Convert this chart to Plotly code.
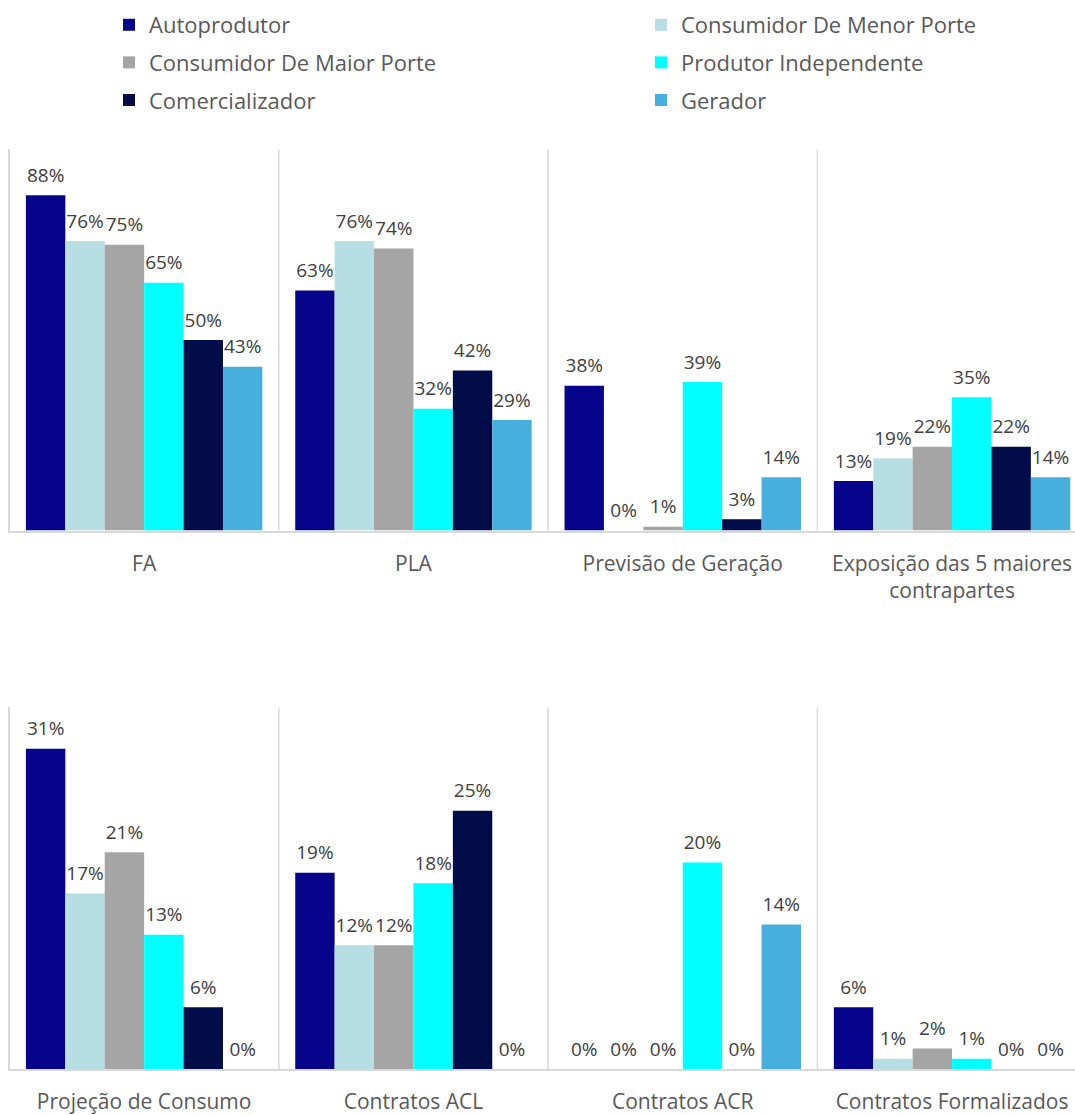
import plotly.graph_objects as go

# Categories for each panel
categories_top = ["FA", "PLA", "Previsão de Geração", "Exposição das 5 maiores<br>contrapartes"]
categories_bottom = ["Projeção de Consumo", "Contratos ACL", "Contratos ACR", "Contratos Formalizados"]

# Agent types (series) and their values in percent
series_names = [
    "Autoprodutor",
    "Consumidor De Menor Porte",
    "Consumidor De Maior Porte",
    "Produtor Independente",
    "Comercializador",
    "Gerador",
]
values_top = {
    "Autoprodutor": [88, 63, 38, 13],
    "Consumidor De Menor Porte": [76, 76, 0, 19],
    "Consumidor De Maior Porte": [75, 74, 1, 22],
    "Produtor Independente": [65, 32, 39, 35],
    "Comercializador": [50, 42, 3, 22],
    "Gerador": [43, 29, 14, 14],
}
values_bottom = {
    "Autoprodutor": [31, 19, 0, 6],
    "Consumidor De Menor Porte": [17, 12, 0, 1],
    "Consumidor De Maior Porte": [21, 12, 0, 2],
    "Produtor Independente": [13, 18, 20, 1],
    "Comercializador": [6, 25, 0, 0],
    "Gerador": [0, 0, 14, 0],
}

colors = {
    "Autoprodutor": "#07048c",
    "Consumidor De Menor Porte": "#b7dee2",
    "Consumidor De Maior Porte": "#a5a5a5",
    "Produtor Independente": "#00ffff",
    "Comercializador": "#020c48",
    "Gerador": "#47afdd",
}
# Legend laid out in two columns
legend_columns = {
    "Autoprodutor": "legend",
    "Consumidor De Maior Porte": "legend",
    "Comercializador": "legend",
    "Consumidor De Menor Porte": "legend2",
    "Produtor Independente": "legend2",
    "Gerador": "legend2",
}

W, H = 1075, 1115
FONT = "Open Sans"
AXIS_GRAY = "#d9d9d9"
TEXT_GRAY = "#595959"
LABEL_GRAY = "#404040"

# Label text: value line plus a tiny spacer line to lift the label off the bar
label_tpl = ("<span style='font-size:19px'>%{y}%</span>"
             "<br><span style='font-size:1px'>\u00a0</span>")

fig = go.Figure()
for name in series_names:
    for panel, (cats, vals, xa, ya) in enumerate([
        (categories_top, values_top, "x", "y"),
        (categories_bottom, values_bottom, "x2", "y2"),
    ]):
        fig.add_trace(go.Bar(
            name=name,
            x=cats,
            y=vals[name],
            xaxis=xa,
            yaxis=ya,
            marker=dict(color=colors[name], line=dict(width=0)),
            texttemplate=label_tpl,
            textposition="outside",
            textfont=dict(family=FONT, size=8, color=LABEL_GRAY),
            constraintext="none",
            cliponaxis=False,
            legendgroup=name,
            legend=legend_columns[name],
            showlegend=(panel == 0),
            hovertemplate=name + "<br>%{x}: %{y}%<extra></extra>",
        ))

# Plot-area geometry in pixels
left_px = 9.5
group_px = 269.3
x_hi = -0.5 + (W - left_px) / group_px
top_y0, top_y1 = 150, 532.5
bot_y0, bot_y1 = 710, 1073

def xaxis_cfg(cats):
    return dict(
        domain=[left_px / W, 1],
        type="category",
        categoryorder="array",
        categoryarray=cats,
        range=[-0.5, x_hi],
        showline=True,
        linecolor=AXIS_GRAY,
        linewidth=1.5,
        showgrid=False,
        zeroline=False,
        ticks="",
        ticklabelstandoff=13,
        tickfont=dict(family=FONT, size=21, color=TEXT_GRAY),
        fixedrange=True,
    )

def yaxis_cfg(y0, y1, ymax):
    return dict(
        domain=[1 - y1 / H, 1 - y0 / H],
        range=[0, ymax],
        showline=True,
        linecolor=AXIS_GRAY,
        linewidth=1.5,
        showgrid=False,
        zeroline=False,
        showticklabels=False,
        ticks="",
        fixedrange=True,
    )

# Light separators between category groups
shapes = []
for xref, yref, cats in [("x", "y", categories_top), ("x2", "y2", categories_bottom)]:
    for i in range(1, len(cats)):
        shapes.append(dict(
            type="line", xref=xref, yref=yref + " domain",
            x0=i - 0.5, x1=i - 0.5, y0=0, y1=1,
            line=dict(color=AXIS_GRAY, width=1.5),
        ))

def legend_cfg(x_px):
    return dict(
        orientation="v",
        x=x_px / W, xanchor="left",
        y=1 - 4 / H, yanchor="top",
        traceorder="grouped",
        tracegroupgap=6,
        font=dict(family=FONT, size=22, color=TEXT_GRAY),
        bgcolor="rgba(0,0,0,0)",
    )

fig.update_layout(
    width=W,
    height=H,
    margin=dict(l=0, r=0, t=0, b=0),
    paper_bgcolor="white",
    plot_bgcolor="white",
    barmode="group",
    bargap=0.122,
    bargroupgap=0,
    xaxis=xaxis_cfg(categories_top),
    yaxis=yaxis_cfg(top_y0, top_y1, 100),
    xaxis2=dict(xaxis_cfg(categories_bottom), anchor="y2"),
    yaxis2=dict(yaxis_cfg(bot_y0, bot_y1, 35), anchor="x2"),
    shapes=shapes,
    legend=legend_cfg(109),
    legend2=legend_cfg(641),
    font=dict(family=FONT, color=TEXT_GRAY),
)
fig.update_layout(xaxis=dict(anchor="y"), yaxis=dict(anchor="x"))

fig.write_html("out.html")
